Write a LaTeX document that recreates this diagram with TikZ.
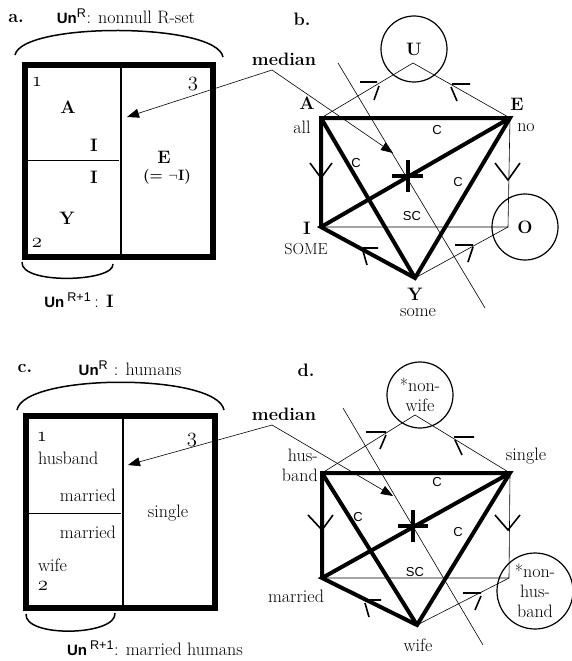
\documentclass[tikz,border=0pt]{standalone}
\usepackage{fontspec}
\setsansfont{Liberation Sans}
\usepackage{tikz}
\usetikzlibrary{arrows.meta}

\newcommand{\univ}{{\sffamily\bfseries\fontsize{15}{17}\selectfont Un}}
\newcommand{\onum}[1]{{\fontsize{22}{24}\selectfont$\mathnormal{#1}$}}

\begin{document}
\begin{tikzpicture}[x=1pt, y=-1pt,
    txt/.style={font=\fontsize{18}{20}\selectfont, inner sep=0pt},
    bold/.style={font=\fontsize{18}{20}\selectfont\bfseries, inner sep=0pt},
    sans/.style={font=\sffamily\fontsize{13}{15}\selectfont, inner sep=0pt},
    frame/.style={line width=6.5pt},
    divider/.style={line width=2.5pt},
    heavy/.style={line width=4pt},
    thin/.style={line width=0.6pt},
    ring/.style={circle, draw, line width=1.2pt, minimum size=66pt, inner sep=0pt,
      font=\fontsize{18}{20}\selectfont},
    barb/.style={line width=1.6pt},
    brace/.style={line width=1.5pt},
    pointer/.style={line width=0.6pt, -{Triangle[length=12pt, width=9pt]}}]
  \useasboundingbox (0,0) rectangle (572,661);

  % a.
  \node[bold] (la) at (16,18) {a.};
  \node[txt] (tita) at (126,16) {\univ\textsuperscript{\sffamily R}: nonnull R-set};
  \draw[brace] (15,55) .. controls (22,22) and (216,22) .. (223,57);
  \draw[frame] (25,65) rectangle (213,257);
  \draw[divider] (121,65) -- (121,257);
  \draw[thin] (27,160) -- (119,160);
  \node[txt] (na1) at (37,82) {\onum{1}};
  \node[txt] (na3) at (193,84) {\onum{3}};
  \node[bold] (aA) at (68,107) {A};
  \node[bold] (aI1) at (94,145) {I};
  \node[bold] (aI2) at (94,177) {I};
  \node[bold] (aY) at (67,218) {Y};
  \node[txt] (na2) at (37,243) {\onum{2}};
  \node[bold] (aE) at (164,157) {E};
  \node[bold, font=\fontsize{15}{17}\selectfont\bfseries] (aneg) at (167,177) {(= $\neg$I)};
  \draw[brace] (22,262) .. controls (20,285) and (115,282) .. (113,264);
  \node[txt] (suba) at (79,300) {\univ\,\textsuperscript{\sffamily R+1}\,: \textbf{I}};

  \node[bold] (meda) at (284,59) {median};
  \coordinate (ka) at (272,70);
  \coordinate (ta) at (127,117);
  \coordinate (tb) at (393,153);
  \draw[pointer] (ka) -- (ta);
  \draw[pointer] (ka) -- (tb);

  % b.
  \node[bold] (lb) at (302,19) {b.};
  \coordinate (A) at (321,118);
  \coordinate (E) at (510,118);
  \coordinate (I) at (321,227);
  \coordinate (O) at (508,227);
  \coordinate (Y) at (415,278);
  \coordinate (Uf) at (413,63);
  \node[ring] (U) at (414,49) {\textbf{U}};
  \node[ring] (Oc) at (525,227) {\textbf{O}};
  \draw[thin] (A) -- (Uf) -- (E);
  \draw[thin] (E) -- (O) -- (I);
  \draw[thin] (O) -- (Y);
  \coordinate (mb1) at (338,63);
  \coordinate (mb2) at (485,308);
  \draw[thin] (mb1) -- (mb2);
  \draw[heavy] (I) -- (A) -- (E) -- (Y) -- (I) -- (E);
  \draw[heavy] (A) -- (Y);
  \draw[line width=4.5pt] (392,176) -- (423,176) (408,160) -- (408,192);
  \draw[barb] (360,82) -- (377,82) (379,86) -- (374,100);
  \draw[barb] (452,84) -- (470,84) (451,87) -- (457,101);
  \draw[barb] (310,163) -- (321,178) -- (332,163);
  \draw[barb] (495,163) -- (508,180) -- (520,163);
  \draw[barb] (363,248) -- (378,248) (363,251) -- (367,265);
  \draw[barb] (455,245) -- (473,245) (473,247) -- (468,262);
  \node[sans] (cb1) at (437,130) {C};
  \node[sans] (cb2) at (356,163) {C};
  \node[sans] (cb3) at (458,182) {C};
  \node[sans] (scb) at (412,216) {SC};
  \node[bold] (bA) at (307,103) {A};
  \node[txt] (ball) at (302,127) {all};
  \node[bold] (bE) at (517,104) {E};
  \node[txt] (bno) at (526,128) {no};
  \node[bold] (bI) at (307,228) {I};
  \node[txt, font=\fontsize{16}{18}\selectfont] (bsome) at (306,249) {SOME};
  \node[bold] (bY) at (415,294) {Y};
  \node[txt] (bsm) at (418,313) {some};

  % c.
  \node[bold] (lc) at (25,368) {c.};
  \node[txt] (titc) at (130,368) {\univ\textsuperscript{\sffamily R} : humans};
  \draw[brace] (17,410) .. controls (24,373) and (217,373) .. (224,410);
  \draw[frame] (26,416) rectangle (215,608);
  \draw[divider] (123,416) -- (123,608);
  \draw[thin] (28,513) -- (121,513);
  \node[txt] (nc1) at (42,437) {\onum{1}};
  \node[txt] (nc3) at (192,440) {\onum{3}};
  \node[txt, anchor=west] (chus) at (38,458) {husband};
  \node[txt, anchor=east] (cmar1) at (116,495) {married};
  \node[txt, anchor=east] (cmar2) at (116,532) {married};
  \node[txt, anchor=west] (cwife) at (38,565) {wife};
  \node[txt] (nc2) at (43,586) {\onum{2}};
  \node[txt] (csing) at (168,513) {single};
  \draw[brace] (26,614) .. controls (24,638) and (117,636) .. (115,613);
  \node[txt] (subc) at (155,648) {\univ\,\textsuperscript{\sffamily R+1}: married humans};

  \node[bold] (medc) at (284,414) {median};
  \coordinate (kc) at (272,425);
  \coordinate (tc) at (128,465);
  \coordinate (td) at (393,496);
  \draw[pointer] (kc) -- (tc);
  \draw[pointer] (kc) -- (td);

  % d.
  \node[bold] (ld) at (306,370) {d.};
  \coordinate (H) at (322,473);
  \coordinate (S) at (510,473);
  \coordinate (M) at (322,578);
  \coordinate (N) at (509,578);
  \coordinate (W) at (417,625);
  \coordinate (NWf) at (415,415);
  \node[ring, align=center] (NW) at (420,395) {*non-\\wife};
  \node[ring, align=center, minimum size=76pt] (NH) at (535,591) {*non-\\hus-\\band};
  \draw[thin] (H) -- (NWf) -- (S);
  \draw[thin] (S) -- (N) -- (M);
  \draw[thin] (N) -- (W);
  \coordinate (md1) at (343,408);
  \coordinate (md2) at (483,645);
  \draw[thin] (md1) -- (md2);
  \draw[heavy] (M) -- (H) -- (S) -- (W) -- (M) -- (S);
  \draw[heavy] (H) -- (W);
  \draw[line width=4.5pt] (398,526) -- (428,526) (413,510) -- (413,542);
  \draw[barb] (366,432) -- (386,432) (386,435) -- (380,449);
  \draw[barb] (454,437) -- (474,437) (455,440) -- (462,455);
  \draw[barb] (308,515) -- (322,530) -- (333,515);
  \draw[barb] (495,515) -- (508,530) -- (520,515);
  \draw[barb] (365,600) -- (381,600) (365,603) -- (369,617);
  \draw[barb] (463,593) -- (481,593) (481,596) -- (475,610);
  \node[sans] (cd1) at (437,482) {C};
  \node[sans] (cd2) at (358,517) {C};
  \node[sans] (cd3) at (458,532) {C};
  \node[sans] (scd) at (415,572) {SC};
  \node[txt, align=right, anchor=east] (dhus) at (318,465) {hus-\\band};
  \node[txt] (dsing) at (526,456) {single};
  \node[txt] (dmar) at (296,596) {married};
  \node[txt] (dwife) at (418,645) {wife};
\end{tikzpicture}
\end{document}
